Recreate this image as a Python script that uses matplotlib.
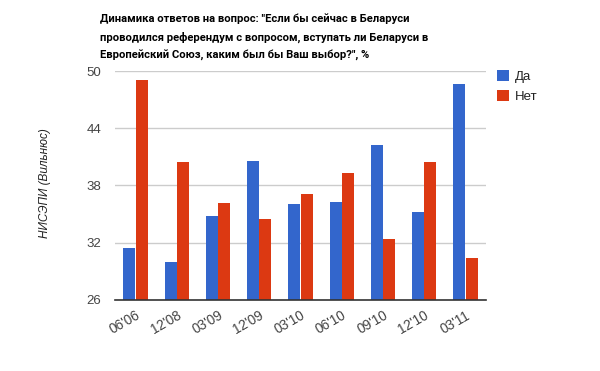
import matplotlib
matplotlib.use("Agg")
import matplotlib.pyplot as plt
import numpy as np

categories = ["06'06", "12'08", "03'09", "12'09", "03'10", "06'10", "09'10", "12'10", "03'11"]
da = [31.4, 30.0, 34.8, 40.6, 36.1, 36.3, 42.2, 35.2, 48.6]
net = [49.1, 40.5, 36.2, 34.5, 37.1, 39.3, 32.4, 40.5, 30.4]
series_names = ["Да", "Нет"]
yticks = [26, 32, 38, 44, 50]
title = ('Динамика ответов на вопрос: "Если бы сейчас в Беларуси\n'
         'проводился референдум с вопросом, вступать ли Беларуси в\n'
         'Европейский Союз, каким был бы Ваш выбор?", %')
ylabel = "НИСЭПИ (Вильнюс)"

plt.rcParams['font.family'] = ['Liberation Sans', 'DejaVu Sans']

fig = plt.figure(figsize=(6.0, 3.71), dpi=100)
ax = fig.add_axes([115/600, 1-300/371, (486-115)/600, (300-71)/371])

x = np.arange(len(categories))
w = 0.29
ax.bar(x - w/2 - 0.005, da, width=w, bottom=0, color="#3366cc", label=series_names[0], zorder=3)
ax.bar(x + w/2 + 0.005, net, width=w, bottom=0, color="#dc3912", label=series_names[1], zorder=3)

ax.set_xlim(-0.5, len(categories) - 0.5)
ax.set_ylim(26, 50)
ax.set_yticks(yticks)
ax.set_yticklabels([str(t) for t in yticks], fontsize=9.5, color="#444444")
ax.yaxis.grid(True, color="#cccccc", linewidth=1, zorder=0)
ax.tick_params(axis='both', length=0, pad=10)
ax.tick_params(axis='x', pad=6)
ax.set_xticks(x)
ax.set_xticklabels(categories, rotation=30, ha='right', rotation_mode='anchor',
                   fontsize=9.8, color="#444444")
for s in ['top', 'right', 'left']:
    ax.spines[s].set_visible(False)
ax.spines['bottom'].set_color("#333333")
ax.spines['bottom'].set_linewidth(1.2)
ax.spines['bottom'].set_zorder(4)

fig.text(100/600, 1-13/371, title, fontsize=8.1, fontweight='bold', ha='left', va='top',
         linespacing=1.85, color="#000000", family=['Roboto', 'DejaVu Sans'])
fig.text(45/600, 1-183/371, ylabel, rotation=90, fontsize=8.5, style='italic',
         color="#222222", ha='center', va='center')

leg = fig.legend(loc='upper left', bbox_to_anchor=(497/600, 1-70/371), frameon=False,
                 fontsize=9.5, handlelength=0.9, handleheight=0.9, handletextpad=0.45,
                 labelspacing=0.55, borderaxespad=0, borderpad=0)
for t in leg.get_texts():
    t.set_color("#222222")

fig.savefig("out.png", dpi=100, facecolor="white")
